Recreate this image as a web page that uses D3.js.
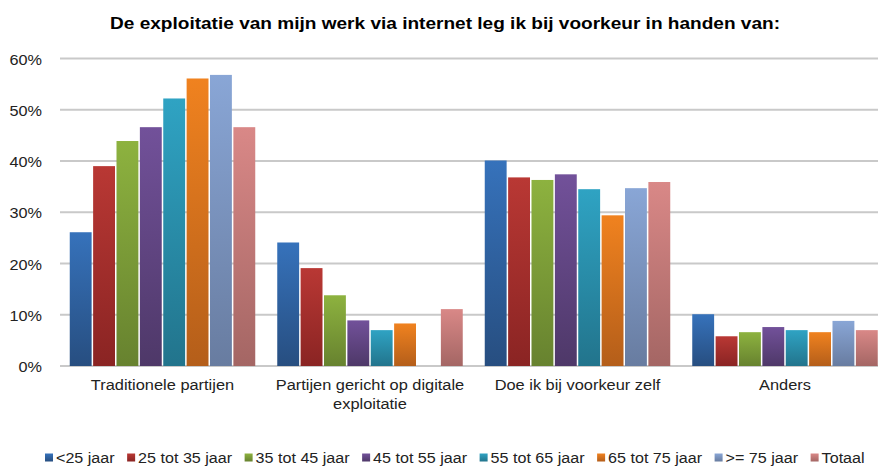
<!DOCTYPE html>
<html>
<head>
<meta charset="utf-8">
<script src="https://cdn.jsdelivr.net/npm/d3@7"></script>
<style>
  html, body { margin: 0; padding: 0; background: #fff; overflow: hidden; }
  svg { display: block; font-family: "Liberation Sans", Arial, sans-serif; }
</style>
</head>
<body>
<svg id="chart" width="878" height="467"></svg>
<script>
// ---- Data ----
const title = "De exploitatie van mijn werk via internet leg ik bij voorkeur in handen van:";
const categories = ["Traditionele partijen", "Partijen gericht op digitale exploitatie", "Doe ik bij voorkeur zelf", "Anders"];
const categoryLines = [["Traditionele partijen"], ["Partijen gericht op digitale", "exploitatie"], ["Doe ik bij voorkeur zelf"], ["Anders"]];
const seriesNames = ["<25 jaar", "25 tot 35 jaar", "35 tot 45 jaar", "45 tot 55 jaar", "55 tot 65 jaar", "65 tot 75 jaar", ">= 75 jaar", "Totaal"];
const lt25     = [26.1, 24.1, 40.1, 10.1];
const age25_35 = [39.0, 19.1, 36.8, 5.8];
const age35_45 = [43.9, 13.8, 36.3, 6.6];
const age45_55 = [46.6, 8.9, 37.4, 7.6];
const age55_65 = [52.2, 7.0, 34.5, 7.0];
const age65_75 = [56.1, 8.3, 29.4, 6.6];
const ge75     = [56.8, null, 34.7, 8.8];
const totaal   = [46.6, 11.1, 35.9, 7.0];
const seriesValues = [lt25, age25_35, age35_45, age45_55, age55_65, age65_75, ge75, totaal];
const yTicks = [0, 10, 20, 30, 40, 50, 60];
const topColors    = ["#3672bb", "#b93834", "#8db23f", "#72519a", "#2fa3c3", "#f0821f", "#89a6d6", "#d98887"];
const bottomColors = ["#274e80", "#8a2423", "#67822f", "#4e3868", "#22748c", "#b45e1a", "#687ca0", "#a46664"];

// ---- Setup ----
const svg = d3.select("#chart");
const STRETCH = 1.16;
function stretch(sel, f) {
  sel.each(function () {
    const w = this.getComputedTextLength();
    d3.select(this).attr("textLength", w * f).attr("lengthAdjust", "spacingAndGlyphs");
  });
}

const defs = svg.append("defs");
seriesNames.forEach((s, i) => {
  const g = defs.append("linearGradient").attr("id", "grad" + i)
    .attr("x1", 0).attr("y1", 0).attr("x2", 0).attr("y2", 1);
  g.append("stop").attr("offset", "0%").attr("stop-color", topColors[i]);
  g.append("stop").attr("offset", "100%").attr("stop-color", bottomColors[i]);
});

const plotLeft = 58.75, plotRight = 888.75;
const x0 = d3.scaleBand().domain(categories).range([plotLeft, plotRight])
  .paddingInner(0.0988).paddingOuter(0.0494);
const x1 = d3.scaleBand().domain(seriesNames).range([0, x0.bandwidth()]).padding(0);
const y = d3.scaleLinear().domain([0, 60]).range([366, 58.5]);

// Gridlines
const grid = svg.append("g");
yTicks.forEach(t => {
  grid.append("line").attr("x1", 60).attr("x2", 878)
    .attr("y1", y(t)).attr("y2", y(t))
    .attr("stroke", "#c9c9c9").attr("stroke-width", 2);
});

// Y axis labels
const yAxis = svg.append("g").attr("transform", "translate(42,0)")
  .call(d3.axisLeft(y).tickValues(yTicks).tickSize(0).tickPadding(0).tickFormat(d => d + "%"));
yAxis.select(".domain").remove();
yAxis.selectAll("text")
  .attr("font-family", "Liberation Sans, Arial, sans-serif")
  .attr("font-size", 14).attr("fill", "#222")
  .attr("dy", null).attr("dominant-baseline", null)
  .attr("y", 5.5);
stretch(yAxis.selectAll("text"), STRETCH);

// Bars
const groups = svg.append("g").selectAll("g").data(categories).join("g")
  .attr("transform", d => `translate(${x0(d)},0)`);
groups.each(function (cat, ci) {
  const data = seriesNames.map((s, si) => ({ s, si, v: seriesValues[si][ci] })).filter(d => d.v != null);
  d3.select(this).selectAll("rect").data(data).join("rect")
    .attr("x", d => x1(d.s) + 0.75)
    .attr("width", x1.bandwidth() - 1.5)
    .attr("y", d => y(d.v))
    .attr("height", d => y(0) - y(d.v))
    .attr("fill", d => `url(#grad${d.si})`);
});

// Category labels
const catG = svg.append("g");
categories.forEach((c, i) => {
  categoryLines[i].forEach((line, li) => {
    catG.append("text")
      .attr("x", x0(c) + x0.bandwidth() / 2)
      .attr("y", 390 + li * 19)
      .attr("text-anchor", "middle")
      .attr("font-size", 14).attr("fill", "#222")
      .text(line);
  });
});
stretch(catG.selectAll("text"), 1.17);

// Title
const t = svg.append("text").attr("x", 445).attr("y", 29)
  .attr("text-anchor", "middle").attr("font-weight", "bold")
  .attr("font-size", 17).attr("fill", "#000").text(title);
t.attr("textLength", 670).attr("lengthAdjust", "spacingAndGlyphs");

// Legend
const legend = svg.append("g");
let lx = 45;
seriesNames.forEach((s, i) => {
  legend.append("rect").attr("x", lx).attr("y", 453.5).attr("width", 8).attr("height", 8)
    .attr("fill", `url(#grad${i})`);
  const tx = legend.append("text").attr("x", lx + 11).attr("y", 462.5)
    .attr("font-size", 14).attr("fill", "#222").text(s);
  const w = tx.node().getComputedTextLength() * 1.15;
  tx.attr("textLength", w).attr("lengthAdjust", "spacingAndGlyphs");
  lx = lx + 11 + w + 12.5;
});
</script>
</body>
</html>
